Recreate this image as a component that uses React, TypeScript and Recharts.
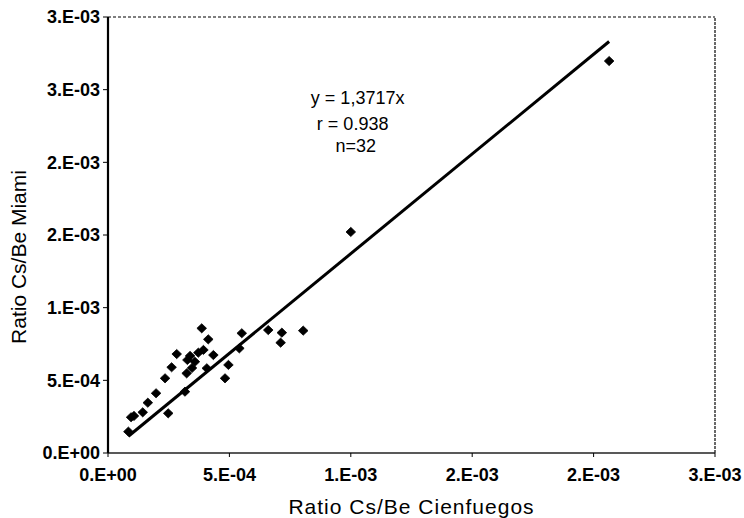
import React from 'react';
import { ScatterChart, Scatter, XAxis, YAxis, ReferenceDot, ReferenceLine, Label } from 'recharts';

// Ratio Cs/Be — Cienfuegos (x) vs Miami (y)
const cienfuegos = [
  8.4e-5, 9.5e-5, 1.07e-4, 1.43e-4, 1.64e-4, 1.98e-4, 2.35e-4, 2.48e-4,
  2.62e-4, 2.83e-4, 3.17e-4, 3.24e-4, 3.27e-4, 3.38e-4, 3.58e-4, 3.72e-4,
  3.86e-4, 3.93e-4, 4.07e-4, 4.13e-4, 4.34e-4, 4.82e-4, 4.96e-4, 5.51e-4,
  5.41e-4, 6.6e-4, 7.16e-4, 7.11e-4, 8.04e-4, 1.0e-3, 2.064e-3, 3.46e-4,
];
const miami = [
  1.47e-4, 2.46e-4, 2.55e-4, 2.8e-4, 3.46e-4, 4.11e-4, 5.14e-4, 2.73e-4,
  5.9e-4, 6.81e-4, 4.22e-4, 5.48e-4, 6.4e-4, 6.68e-4, 6.28e-4, 6.9e-4,
  8.58e-4, 7.09e-4, 5.83e-4, 7.82e-4, 6.74e-4, 5.14e-4, 6.06e-4, 8.24e-4,
  7.2e-4, 8.46e-4, 8.28e-4, 7.59e-4, 8.42e-4, 1.521e-3, 2.697e-3, 5.85e-4,
];

const xDomain = [0, 2.5e-3];
const yDomain = [0, 3e-3];
const xTicks = [0, 5e-4, 1e-3, 1.5e-3, 2e-3, 2.5e-3];
const xTickLabels = ['0.E+00', '5.E-04', '1.E-03', '2.E-03', '2.E-03', '3.E-03'];
const yTicks = [0, 5e-4, 1e-3, 1.5e-3, 2e-3, 2.5e-3, 3e-3];
const yTickLabels = ['0.E+00', '5.E-04', '1.E-03', '2.E-03', '2.E-03', '3.E-03', '3.E-03'];

const slope = 1.3717;
const annotationLines = ['y = 1,3717x', 'r  = 0.938', 'n=32'];
const annotationAt = { x: 1.02e-3, y: 2.4e-3 };

const xTitle = 'Ratio Cs/Be Cienfuegos';
const yTitle = 'Ratio Cs/Be Miami';

const points = cienfuegos.map((x, i) => ({ x, y: miami[i] }));
const xMin = Math.min(...cienfuegos);
const xMax = Math.max(...cienfuegos);
const trend = [
  { x: xMin, y: slope * xMin },
  { x: xMax, y: slope * xMax },
];

const FONT = '"Liberation Sans", Arial, sans-serif';

const Diamond = (props: any) => {
  const { cx, cy } = props;
  if (cx == null || cy == null) return <g />;
  const w = 4.8;
  const h = 4.6;
  return (
    <path
      d={`M${cx},${cy - h} L${cx + w},${cy} L${cx},${cy + h} L${cx - w},${cy} Z`}
      fill="#000"
      stroke="#000"
      strokeWidth={0.8}
    />
  );
};

const NoShape = () => <g />;

const tickStyle = { fill: '#000', fontSize: 18, fontWeight: 700, fontFamily: FONT };

export default function App() {
  return (
    <div style={{ position: 'absolute', left: 0, top: 0, width: 744, height: 518, background: '#fff' }}>
      <ScatterChart width={744} height={518} margin={{ top: 17, right: 29, bottom: 0, left: 0 }}>
        <XAxis
          type="number"
          dataKey="x"
          domain={xDomain}
          ticks={xTicks}
          interval={0}
          height={65}
          tickSize={4}
          tickMargin={11}
          tickFormatter={(_v: any, i: number) => xTickLabels[i]}
          tick={tickStyle}
          tickLine={{ stroke: '#000' }}
          axisLine={{ stroke: '#222', strokeWidth: 1.6 }}
        >
          <Label
            content={(p: any) => {
              const vb = p.viewBox || {};
              return (
                <text
                  x={vb.x + vb.width / 2}
                  y={vb.y + 61}
                  textAnchor="middle"
                  fontFamily={FONT}
                  fontSize={21}
                  letterSpacing={1}
                  fill="#000"
                >
                  {xTitle}
                </text>
              );
            }}
          />
        </XAxis>
        <YAxis
          type="number"
          dataKey="y"
          domain={yDomain}
          ticks={yTicks}
          interval={0}
          width={108}
          tickSize={5}
          tickMargin={3}
          tickFormatter={(_v: any, i: number) => yTickLabels[i]}
          tick={tickStyle}
          tickLine={{ stroke: '#000' }}
          axisLine={{ stroke: '#000', strokeWidth: 2.2 }}
        >
          <Label
            content={(p: any) => {
              const vb = p.viewBox || {};
              const cx = vb.x + 18;
              const cy = vb.y + vb.height / 2 + 22;
              return (
                <text
                  x={cx}
                  y={cy}
                  transform={`rotate(-90 ${cx} ${cy})`}
                  textAnchor="middle"
                  dominantBaseline="central"
                  fontFamily={FONT}
                  fontSize={21}
                  fill="#000"
                >
                  {yTitle}
                </text>
              );
            }}
          />
        </YAxis>
        <ReferenceLine y={yDomain[1]} stroke="#555" strokeWidth={1.3} strokeDasharray="3 2" ifOverflow="visible" />
        <ReferenceLine x={xDomain[1]} stroke="#444" strokeWidth={1.6} strokeDasharray="3 1" ifOverflow="visible" />
        <Scatter
          data={trend}
          line={{ stroke: '#000', strokeWidth: 3 }}
          lineType="joint"
          shape={NoShape}
          isAnimationActive={false}
          legendType="none"
        />
        <Scatter data={points} shape={Diamond} isAnimationActive={false} />
        <ReferenceDot
          x={annotationAt.x}
          y={annotationAt.y}
          r={1}
          fill="none"
          stroke="none"
          label={(p: any) => {
            const vb = p.viewBox || {};
            const cx = vb.x + (vb.width || 0) / 2;
            const cy = vb.y + (vb.height || 0) / 2;
            return (
              <g fontFamily={FONT} fontSize={18} fill="#000">
                <text x={cx + 2} y={cy} textAnchor="middle">{annotationLines[0]}</text>
                <text x={cx - 3} y={cy + 26} textAnchor="middle">{annotationLines[1]}</text>
                <text x={cx} y={cy + 48} textAnchor="middle">{annotationLines[2]}</text>
              </g>
            );
          }}
        />
      </ScatterChart>
    </div>
  );
}
